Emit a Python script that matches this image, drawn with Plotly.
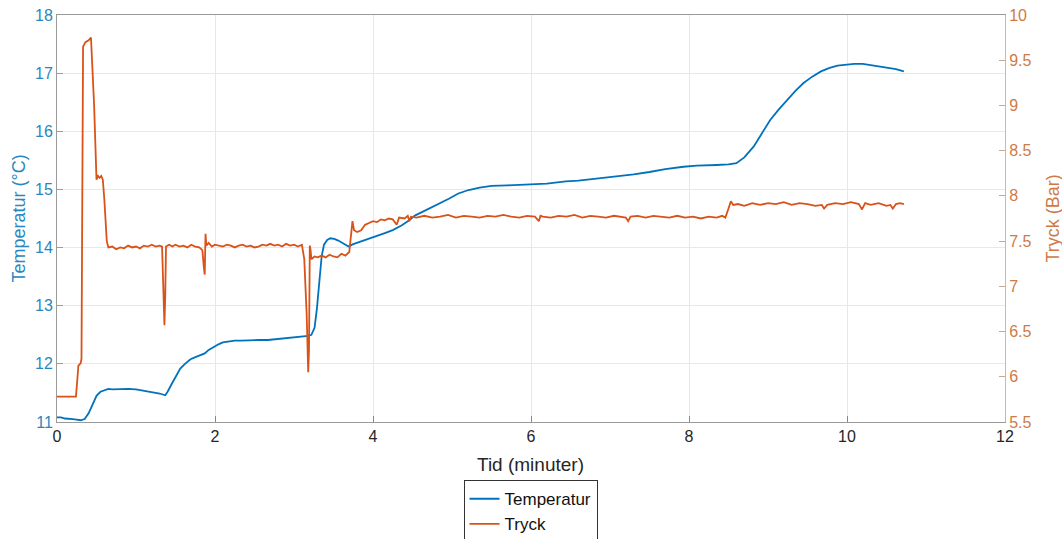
import plotly.graph_objects as go

# Temperatur (°C) vs Tid (minuter)
temp_t = [0.00, 0.05, 0.10, 0.15, 0.20, 0.25, 0.30, 0.35, 0.40, 0.45, 0.50, 0.55, 0.60, 0.65,
          0.70, 0.80, 0.90, 1.00, 1.10, 1.20, 1.30, 1.37, 1.40, 1.45, 1.50, 1.56, 1.62, 1.69,
          1.76, 1.82, 1.87, 1.92, 1.99, 2.05, 2.10, 2.16, 2.25, 2.33, 2.45, 2.55, 2.67, 2.75,
          2.84, 2.95, 3.05, 3.12, 3.18, 3.22, 3.26, 3.29, 3.32, 3.35, 3.38, 3.42, 3.46, 3.51,
          3.56, 3.62, 3.69, 3.75, 3.82, 3.94, 4.05, 4.15, 4.25, 4.36, 4.45, 4.53, 4.65, 4.75,
          4.85, 4.96, 5.08, 5.21, 5.35, 5.50, 5.70, 5.85, 6.02, 6.20, 6.44, 6.60, 6.80, 7.08,
          7.30, 7.50, 7.70, 7.93, 8.10, 8.35, 8.50, 8.60, 8.70, 8.82, 8.92, 9.03, 9.14, 9.24,
          9.35, 9.45, 9.56, 9.67, 9.78, 9.88, 9.98, 10.09, 10.20, 10.30, 10.40, 10.51, 10.62,
          10.72]
temp_v = [11.08, 11.08, 11.06, 11.06, 11.05, 11.04, 11.03, 11.05, 11.15, 11.30, 11.45, 11.52,
          11.55, 11.57, 11.56, 11.57, 11.57, 11.56, 11.54, 11.52, 11.49, 11.46, 11.52, 11.65,
          11.78, 11.92, 12.00, 12.08, 12.12, 12.15, 12.18, 12.24, 12.30, 12.34, 12.37, 12.38,
          12.40, 12.40, 12.41, 12.41, 12.41, 12.42, 12.44, 12.45, 12.47, 12.47, 12.48, 12.50,
          12.62, 12.95, 13.45, 13.85, 14.05, 14.13, 14.16, 14.15, 14.12, 14.08, 14.02, 14.06,
          14.09, 14.15, 14.20, 14.25, 14.30, 14.38, 14.46, 14.55, 14.63, 14.70, 14.76, 14.84,
          14.93, 14.99, 15.03, 15.06, 15.07, 15.08, 15.08, 15.10, 15.14, 15.15, 15.18, 15.22,
          15.26, 15.30, 15.35, 15.39, 15.41, 15.42, 15.43, 15.45, 15.55, 15.74, 15.97, 16.20,
          16.38, 16.54, 16.70, 16.83, 16.94, 17.03, 17.09, 17.13, 17.15, 17.16, 17.16, 17.14,
          17.12, 17.10, 17.07, 17.03]

# Tryck (Bar) vs Tid (minuter)
tryck_t = [0.00, 0.10, 0.20, 0.24, 0.26, 0.27, 0.30, 0.31, 0.33, 0.36, 0.40, 0.43, 0.47, 0.50,
           0.52, 0.54, 0.56, 0.58, 0.60, 0.63, 0.65, 0.70, 0.75, 0.80, 0.85, 0.90, 0.95, 1.00,
           1.05, 1.10, 1.15, 1.20, 1.25, 1.30, 1.33, 1.35, 1.36, 1.37, 1.38, 1.42, 1.46, 1.50,
           1.55, 1.60, 1.65, 1.70, 1.75, 1.80, 1.84, 1.86, 1.87, 1.88, 1.89, 1.92, 1.96, 2.00,
           2.05, 2.10, 2.15, 2.20, 2.25, 2.30, 2.35, 2.40, 2.45, 2.50, 2.55, 2.60, 2.65, 2.70,
           2.75, 2.80, 2.85, 2.90, 2.95, 3.00, 3.05, 3.10, 3.13, 3.16, 3.18, 3.19, 3.20, 3.21,
           3.22, 3.26, 3.30, 3.35, 3.40, 3.45, 3.50, 3.55, 3.60, 3.65, 3.70, 3.72, 3.74, 3.76,
           3.80, 3.85, 3.90, 3.95, 4.00, 4.05, 4.10, 4.15, 4.20, 4.25, 4.28, 4.30, 4.33, 4.40,
           4.44, 4.46, 4.48, 4.55, 4.65, 4.75, 4.85, 4.95, 5.05, 5.15, 5.25, 5.35, 5.45, 5.55,
           5.65, 5.75, 5.85, 5.95, 6.05, 6.10, 6.12, 6.15, 6.25, 6.35, 6.45, 6.55, 6.65, 6.75,
           6.85, 6.95, 7.05, 7.15, 7.20, 7.23, 7.26, 7.35, 7.45, 7.55, 7.65, 7.75, 7.85, 7.95,
           8.05, 8.15, 8.25, 8.35, 8.42, 8.46, 8.50, 8.53, 8.56, 8.62, 8.70, 8.80, 8.90, 9.00,
           9.10, 9.20, 9.30, 9.40, 9.50, 9.60, 9.68, 9.71, 9.75, 9.85, 9.95, 10.05, 10.15,
           10.19, 10.23, 10.30, 10.40, 10.50, 10.55, 10.58, 10.62, 10.67, 10.72]
tryck_v = [5.78, 5.78, 5.78, 5.78, 6.00, 6.12, 6.15, 6.20, 9.65, 9.70, 9.72, 9.75, 9.00, 8.18,
           8.22, 8.20, 8.22, 8.18, 7.95, 7.50, 7.43, 7.44, 7.41, 7.43, 7.42, 7.45, 7.43, 7.44,
           7.42, 7.45, 7.44, 7.46, 7.44, 7.45, 7.44, 6.90, 6.57, 6.90, 7.44, 7.46, 7.44, 7.46,
           7.44, 7.45, 7.43, 7.46, 7.44, 7.43, 7.40, 7.20, 7.13, 7.58, 7.45, 7.48, 7.44, 7.46,
           7.45, 7.44, 7.46, 7.45, 7.43, 7.45, 7.46, 7.44, 7.45, 7.43, 7.44, 7.46, 7.45, 7.47,
           7.45, 7.46, 7.44, 7.47, 7.45, 7.46, 7.44, 7.46, 7.30, 6.70, 6.05, 6.30, 7.45, 7.40,
           7.30, 7.33, 7.32, 7.34, 7.32, 7.35, 7.33, 7.32, 7.36, 7.34, 7.38, 7.60, 7.72, 7.62,
           7.60, 7.62, 7.68, 7.70, 7.72, 7.71, 7.74, 7.73, 7.75, 7.74, 7.70, 7.68, 7.76, 7.75,
           7.78, 7.72, 7.77, 7.76, 7.78, 7.76, 7.77, 7.79, 7.76, 7.78, 7.77, 7.76, 7.78, 7.77,
           7.79, 7.77, 7.76, 7.78, 7.77, 7.72, 7.78, 7.77, 7.76, 7.78, 7.77, 7.79, 7.76, 7.78,
           7.77, 7.76, 7.78, 7.77, 7.76, 7.72, 7.77, 7.78, 7.76, 7.78, 7.77, 7.76, 7.78, 7.76,
           7.77, 7.75, 7.77, 7.76, 7.78, 7.76, 7.86, 7.94, 7.90, 7.91, 7.89, 7.92, 7.90, 7.92,
           7.91, 7.93, 7.90, 7.92, 7.91, 7.89, 7.90, 7.86, 7.90, 7.92, 7.91, 7.93, 7.91,
           7.85, 7.92, 7.90, 7.92, 7.89, 7.90, 7.86, 7.91, 7.92, 7.91]

x_ticks = [0, 2, 4, 6, 8, 10, 12]
temp_ticks = [11, 12, 13, 14, 15, 16, 17, 18]
tryck_ticks = [5.5, 6, 6.5, 7, 7.5, 8, 8.5, 9, 9.5, 10]

BLUE = "#0072BD"
ORANGE = "#D95319"
TBLUE = "#2a87bd"
TORANGE = "#cf7a45"
FONT = "Liberation Sans, Arial, sans-serif"

fig = go.Figure()
fig.add_trace(go.Scatter(x=temp_t, y=temp_v, mode="lines", name="Temperatur",
                         line=dict(color=BLUE, width=1.8), yaxis="y"))
fig.add_trace(go.Scatter(x=tryck_t, y=tryck_v, mode="lines", name="Tryck",
                         line=dict(color=ORANGE, width=1.8), yaxis="y2"))

fig.update_layout(
    width=1062, height=539,
    margin=dict(l=57, r=57, t=15, b=117, autoexpand=False),
    paper_bgcolor="white", plot_bgcolor="white",
    font=dict(family=FONT, size=16, color="#262626"),
    xaxis=dict(range=[0, 12], tickvals=x_ticks, ticks="inside", ticklen=6,
               tickcolor="#888888", showline=True, linecolor="#9a9a9a", mirror=True,
               showgrid=True, gridcolor="#e8e8e8", zeroline=False, automargin=False,
               ticklabeloverflow="allow",
               tickfont=dict(size=16, color="#262626")),
    yaxis=dict(range=[11, 18], tickvals=temp_ticks, ticks="inside", ticklen=6,
               tickcolor="#7aa9c8", showline=True, linecolor="#9a9a9a",
               showgrid=True, gridcolor="#e8e8e8", zeroline=False, automargin=False,
               ticklabeloverflow="allow",
               tickfont=dict(size=16, color=TBLUE)),
    yaxis2=dict(range=[5.5, 10], tickvals=tryck_ticks, overlaying="y", side="right",
                ticks="inside", ticklen=6, tickcolor="#c9a890",
                showline=True, linecolor="#c8b8ac", showgrid=False, zeroline=False,
                automargin=False, ticklabeloverflow="allow",
                tickfont=dict(size=16, color=TORANGE)),
    legend=dict(x=0.4995, y=-0.143, xanchor="center", yanchor="top",
                bordercolor="#333333", borderwidth=1, bgcolor="white",
                font=dict(size=17, color="#111111"), itemwidth=30,
                tracegroupgap=0),
    showlegend=True,
    annotations=[
        dict(text="Tid (minuter)", xref="paper", yref="paper", x=0.4995, y=-0.1032,
             showarrow=False, xanchor="center", yanchor="middle",
             font=dict(size=19, color="#262626")),
        dict(text="Temperatur (°C)", xref="paper", yref="paper", x=-0.0411, y=0.5,
             showarrow=False, xanchor="center", yanchor="middle", textangle=-90,
             font=dict(size=18, color=TBLUE)),
        dict(text="Tryck (Bar)", xref="paper", yref="paper", x=1.0496, y=0.5,
             showarrow=False, xanchor="center", yanchor="middle", textangle=-90,
             font=dict(size=18, color=TORANGE)),
    ],
)

# remove the default 8px body margin so the figure fills the window exactly
fig.write_html("out.html", config={"displayModeBar": False},
               post_script="document.body.style.margin='0';document.body.style.overflow='hidden';")
